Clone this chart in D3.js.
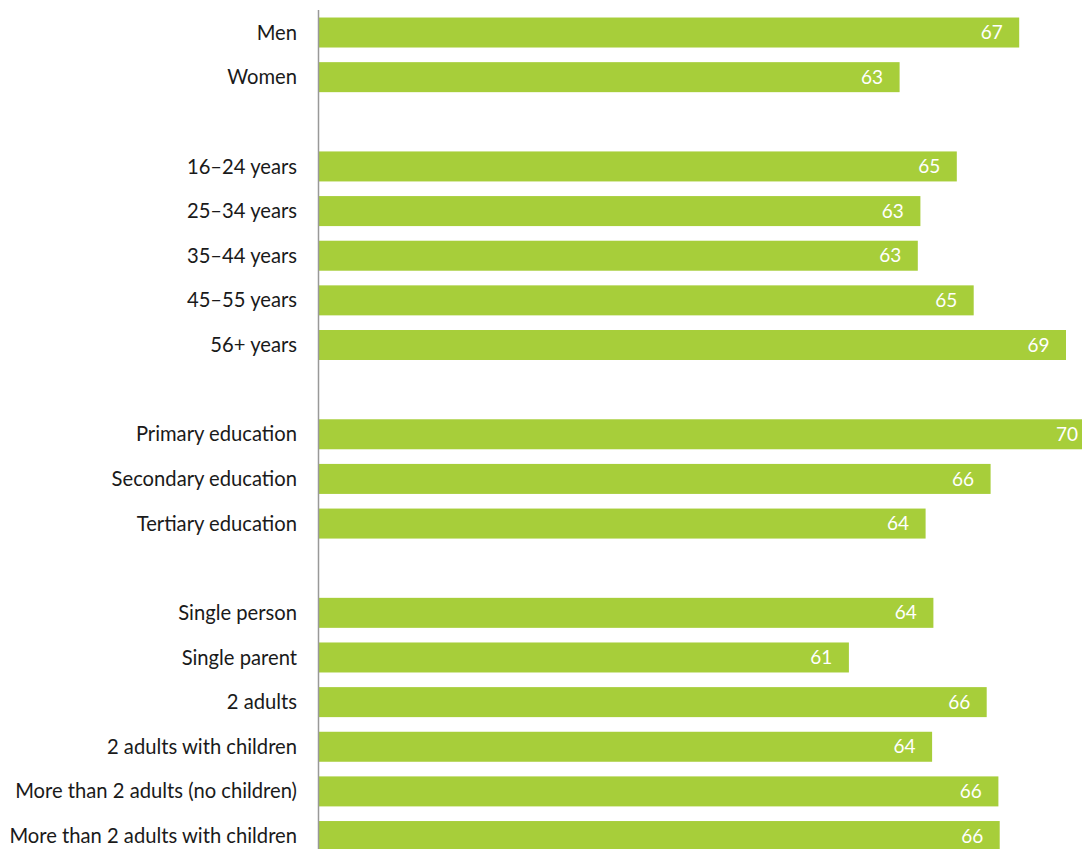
<!DOCTYPE html>
<html>
<head>
<meta charset="utf-8">
<script src="https://cdn.jsdelivr.net/npm/d3@7"></script>
<style>
  body { margin: 0; background: #fff; }
  svg { display: block; font-family: "Source Sans Pro", Lato, sans-serif; }
</style>
</head>
<body>
<div id="chart"></div>
<script>
// share of people, by group (labels are the rounded values)
const sexLabels = ["Men", "Women"];
const sexValues = [67.2, 62.6];

const ageLabels = ["16–24 years", "25–34 years", "35–44 years", "45–55 years", "56+ years"];
const ageValues = [64.8, 63.4, 63.3, 65.45, 69.0];

const eduLabels = ["Primary education", "Secondary education", "Tertiary education"];
const eduValues = [70.1, 66.1, 63.6];

const hhLabels = ["Single person", "Single parent", "2 adults", "2 adults with children",
  "More than 2 adults (no children)", "More than 2 adults with children"];
const hhValues = [63.9, 60.65, 65.95, 63.85, 66.4, 66.45];

const groups = [
  [sexLabels, sexValues],
  [ageLabels, ageValues],
  [eduLabels, eduValues],
  [hhLabels, hhValues]
];

// rows, with an empty slot between groups
let rows = [];
groups.forEach(([labels, values], gi) => {
  if (gi > 0) rows.push({ key: 'gap' + gi, label: null, value: null });
  labels.forEach((l, i) => rows.push({ key: l, label: l, value: values[i] }));
});

const divVar = { width: 1082, height: 849 };
const axisX = 318.5;

const svg = d3.select('#chart').append('svg')
  .attr('width', divVar.width)
  .attr('height', divVar.height);

const x = d3.scaleLinear()
  .domain([40.25, 70])
  .range([axisX, axisX + 29.75 * 26]);

const y = d3.scaleBand()
  .domain(rows.map(d => d.key))
  .range([10.2, 10.2 + rows.length * 44.64])
  .paddingInner(0.328)
  .paddingOuter(0.164);

const bars = rows.filter(d => d.value !== null);

// bars
svg.append('g').selectAll('rect')
  .data(bars)
  .join('rect')
  .attr('x', x(x.domain()[0]))
  .attr('y', d => y(d.key))
  .attr('width', d => x(d.value) - x(x.domain()[0]))
  .attr('height', y.bandwidth())
  .style('fill', '#a7ce3a');

// value labels inside bar ends
svg.append('g').selectAll('text')
  .data(bars)
  .join('text')
  .attr('x', d => x(d.value) - 16.5)
  .attr('y', d => y(d.key) + y.bandwidth() / 2)
  .attr('dy', '0.35em')
  .attr('text-anchor', 'end')
  .style('font-size', '19px')
  .style('fill', '#fff')
  .text(d => d3.format('.0f')(d.value));

// category labels
svg.append('g').selectAll('text')
  .data(bars)
  .join('text')
  .attr('x', 297)
  .attr('y', d => y(d.key) + y.bandwidth() / 2)
  .attr('dy', '0.35em')
  .attr('text-anchor', 'end')
  .style('font-size', '20.2px')
  .style('fill', '#1a1a1a')
  .text(d => d.label);

// vertical axis line
svg.append('line')
  .attr('x1', axisX).attr('x2', axisX)
  .attr('y1', 10).attr('y2', divVar.height)
  .style('stroke', '#999')
  .style('stroke-width', 1.5);
</script>
</body>
</html>
